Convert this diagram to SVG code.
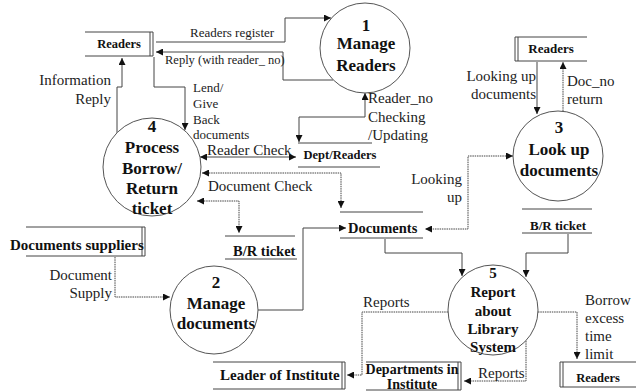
<svg xmlns="http://www.w3.org/2000/svg" width="642" height="392" viewBox="0 0 642 392">
<defs>
<marker id="ah" viewBox="0 0 10 10" refX="10" refY="5" markerWidth="8" markerHeight="7" markerUnits="userSpaceOnUse" orient="auto-start-reverse">
<path d="M0,0 L10,5 L0,10 z" fill="#111"/>
</marker>
<style>
.c{fill:#fff;stroke:#555;stroke-width:1}
.s{stroke:#444;stroke-width:1;fill:none}
.e{stroke:#444;stroke-width:1;fill:none;marker-end:url(#ah)}
.b{stroke:#444;stroke-width:1;fill:none;marker-end:url(#ah);marker-start:url(#ah)}
.d{stroke-dasharray:1.5 0.8}
.p{font-family:"Liberation Serif","Times New Roman",serif;font-weight:bold;font-size:17px;fill:#111;text-anchor:middle}
.p5{font-family:"Liberation Serif","Times New Roman",serif;font-weight:bold;font-size:15px;fill:#111;text-anchor:middle}
.st{font-family:"Liberation Serif","Times New Roman",serif;font-weight:bold;fill:#111}
.l{font-family:"Liberation Serif","Times New Roman",serif;font-size:15px;fill:#222}
.ls{font-family:"Liberation Serif","Times New Roman",serif;font-size:13px;fill:#222}
.r{text-anchor:end}
</style>
</defs>
<rect width="642" height="392" fill="#fff"/>

<g id="connectors">
<polyline class="e" points="156,42 285,42 285,18 331,18"/>
<polyline class="e" points="333,80 283,80 283,52 156,52"/>
<polyline class="e" points="117,133 117,87 122,87 122,58"/>
<polyline class="e" points="154,57 154,87 185,87 185,130"/>
<polyline class="b" points="200,157 296,157"/>
<polyline class="b d" points="202,173 341,173 341,208"/>
<polyline class="b d" points="197,201 239,201 239,233"/>
<polyline class="b" points="365,93 365,117 299,117 299,142"/>
<polyline class="e" points="537,62 537,114"/>
<polyline class="e d" points="563,111 563,62"/>
<polyline class="b d" points="513,156 468,156 468,229 425,229"/>
<polyline class="e" points="258,310 303,310 303,228 346,228"/>
<polyline class="e d" points="115,257 115,297 170,297"/>
<polyline class="e" points="385,239 385,253 462,253 462,276"/>
<polyline class="e" points="568,234 568,253 526,253 526,277"/>
<polyline class="e d" points="448,312 362,312 362,375 347,375"/>
<polyline class="e d" points="526,341 526,381 464,381"/>
<polyline class="e d" points="538,312 577,312 577,359"/>
<text class="ls" x="190" y="37">Readers register</text>
<text class="ls" x="165" y="64" style="font-size:12.5px">Reply (with reader_ no)</text>
<text class="l r" x="111" y="85">Information</text>
<text class="l r" x="111" y="104">Reply</text>
<text class="ls" x="193" y="92">Lend/</text>
<text class="ls" x="193" y="108">Give</text>
<text class="ls" x="193" y="124">Back</text>
<text class="ls" x="193" y="139">documents</text>
<text class="l" x="207" y="155">Reader Check</text>
<text class="l" x="208" y="191">Document Check</text>
<text class="l" x="368" y="103">Reader_no</text>
<text class="l" x="368" y="122">Checking</text>
<text class="l" x="368" y="140">/Updating</text>
<text class="l r" x="536" y="81">Looking up</text>
<text class="l r" x="536" y="99">documents</text>
<text class="l" x="567" y="86">Doc_no</text>
<text class="l" x="567" y="104">return</text>
<text class="l r" x="462" y="184">Looking</text>
<text class="l r" x="462" y="202">up</text>
<text class="l r" x="112" y="280">Document</text>
<text class="l r" x="112" y="298">Supply</text>
<text class="l" x="363" y="307">Reports</text>
<text class="l" x="478" y="378">Reports</text>
<text class="l" x="585" y="305">Borrow</text>
<text class="l" x="585" y="323">excess</text>
<text class="l" x="585" y="341">time</text>
<text class="l" x="585" y="359">limit</text>
</g>

<g id="p1">
<circle class="c" cx="365" cy="48" r="45"/>
<text class="p" x="366" y="31">1</text>
<text class="p" x="366" y="49">Manage</text>
<text class="p" x="366" y="71">Readers</text>
</g>
<g id="p4">
<circle class="c" cx="152" cy="167" r="49"/>
<text class="p" x="152" y="132">4</text>
<text class="p" x="152" y="153">Process</text>
<text class="p" x="152" y="174">Borrow/</text>
<text class="p" x="152" y="194">Return</text>
<text class="p" x="152" y="214">ticket</text>
</g>
<g id="p3">
<circle class="c" cx="558" cy="156" r="45"/>
<text class="p" x="559" y="133">3</text>
<text class="p" x="559" y="155">Look up</text>
<text class="p" x="559" y="176">documents</text>
</g>
<g id="p2">
<circle class="c" cx="214" cy="310" r="44"/>
<text class="p" x="216" y="288">2</text>
<text class="p" x="216" y="309">Manage</text>
<text class="p" x="216" y="329">documents</text>
</g>
<g id="p5">
<circle class="c" cx="493" cy="310" r="45"/>
<text class="p5" x="493" y="278">5</text>
<text class="p5" x="493" y="297">Report</text>
<text class="p5" x="493" y="316">about</text>
<text class="p5" x="493" y="334">Library</text>
<text class="p5" x="493" y="352">System</text>
</g>

<g id="ds-readers-1">
<path class="s" d="M85,32 H153 M85,56 H153 M150,32 V56 M153,32 V56"/>
<text class="st" x="119" y="48" text-anchor="middle" font-size="12.5">Readers</text>
</g>
<g id="ds-readers-2">
<path class="s" d="M515,37 H587 M515,61 H587 M515,37 V61 M518,37 V61"/>
<text class="st" x="551" y="53" text-anchor="middle" font-size="13">Readers</text>
</g>
<g id="ds-dept-readers">
<path class="s" d="M298,143 H372 M298,167 H380"/>
<text class="st" x="340" y="159" text-anchor="middle" font-size="12.5">Dept/Readers</text>
</g>
<g id="ds-documents">
<path class="s" d="M340,212 H423 M340,238 H423"/>
<text class="st" x="348" y="233" font-size="14.5">Documents</text>
</g>
<g id="ds-br-1">
<path class="s" d="M225,236 H295 M225,259 H297"/>
<text class="st" x="233" y="256" font-size="14.5">B/R ticket</text>
</g>
<g id="ds-br-2">
<path class="s" d="M522,209 H592 M522,233 H592"/>
<text class="st" x="558" y="230" text-anchor="middle" font-size="13">B/R ticket</text>
</g>
<g id="ds-suppliers">
<path class="s" d="M26,227 H145 M26,256 H145 M142,227 V256 M145,227 V256"/>
<text class="st" x="10" y="250" font-size="15">Documents suppliers</text>
</g>
<g id="ds-leader">
<path class="s" d="M213,362 H345 M213,389 H345 M342,362 V389 M345,362 V389"/>
<text class="st" x="220" y="380" font-size="15">Leader of Institute</text>
</g>
<g id="ds-departments">
<path class="s" d="M366,362 H461 M366,390 H461 M458,362 V390 M461,362 V390"/>
<text class="st" x="412" y="374" text-anchor="middle" font-size="14">Departments in</text>
<text class="st" x="412" y="389" text-anchor="middle" font-size="14">Institute</text>
</g>
<g id="ds-readers-3">
<path class="s" d="M560,362 H636 M560,387 H636 M560,362 V387 M563,362 V387"/>
<text class="st" x="598" y="382" text-anchor="middle" font-size="12.5">Readers</text>
</g>
</svg>
